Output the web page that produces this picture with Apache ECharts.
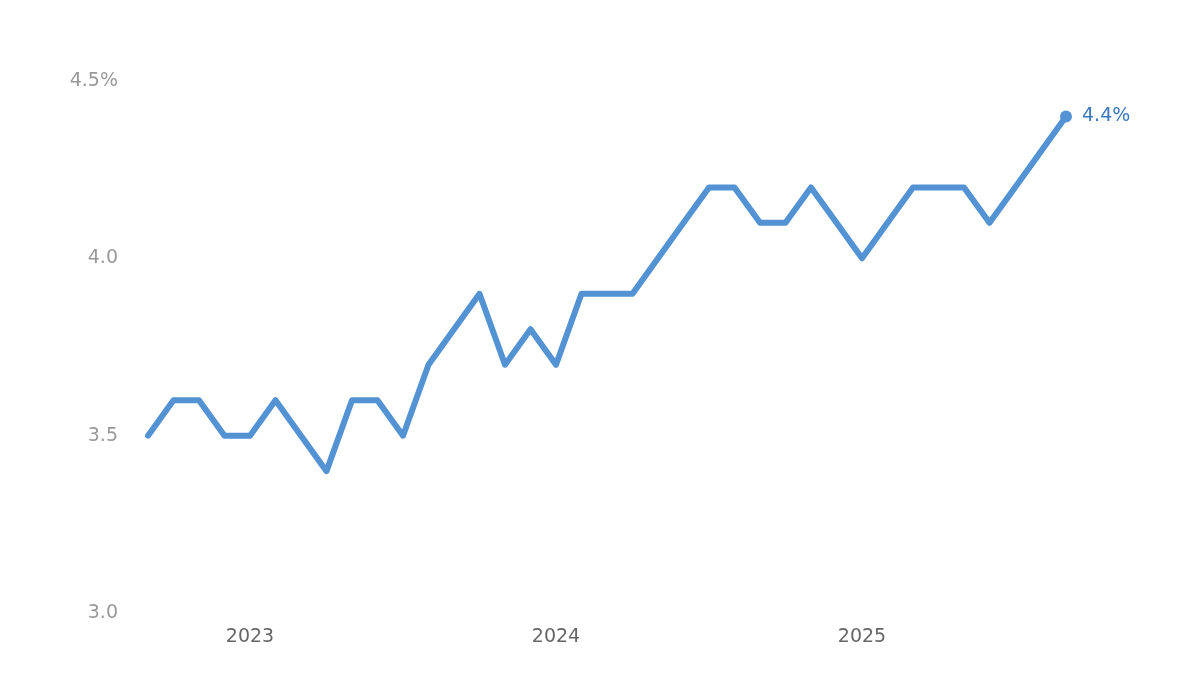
<!DOCTYPE html>
<html>
<head>
<meta charset="utf-8">
<script src="https://cdn.jsdelivr.net/npm/echarts@6/dist/echarts.min.js"></script>
<style>
  html, body { margin: 0; padding: 0; background: #fff; }
  #chart { width: 1200px; height: 678px; }
</style>
</head>
<body>
<div id="chart"></div>
<script>
// monthly, Sep 2022 .. Sep 2025
const months = [
  "2022-09", "2022-10", "2022-11", "2022-12",
  "2023-01", "2023-02", "2023-03", "2023-04", "2023-05", "2023-06",
  "2023-07", "2023-08", "2023-09", "2023-10", "2023-11", "2023-12",
  "2024-01", "2024-02", "2024-03", "2024-04", "2024-05", "2024-06",
  "2024-07", "2024-08", "2024-09", "2024-10", "2024-11", "2024-12",
  "2025-01", "2025-02", "2025-03", "2025-04", "2025-05", "2025-06",
  "2025-07", "2025-08", "2025-09"
];
const rate = [
  3.5, 3.6, 3.6, 3.5,
  3.5, 3.6, 3.5, 3.4, 3.6, 3.6, 3.5, 3.7, 3.8, 3.9, 3.7, 3.8,
  3.7, 3.9, 3.9, 3.9, 4.0, 4.1, 4.2, 4.2, 4.1, 4.1, 4.2, 4.1,
  4.0, 4.1, 4.2, 4.2, 4.2, 4.1, 4.2, 4.3, 4.4
];
const yTicks = [3.0, 3.5, 4.0, 4.5];

let chartDom = document.getElementById("chart");
let myChart = echarts.init(chartDom);
let font = "'DejaVu Sans', sans-serif";

let option = {
  animation: false,
  grid: { left: 148, right: 134, top: 81, bottom: 65 },
  xAxis: {
    type: "category",
    data: months,
    boundaryGap: false,
    axisLine: { show: false },
    axisTick: { show: false },
    splitLine: { show: false },
    axisLabel: {
      color: "#666",
      fontSize: 19,
      fontFamily: font,
      margin: 15,
      interval: function (i, v) { return v.slice(5) === "01"; },
      formatter: function (v) { return v.slice(0, 4); },
    },
  },
  yAxis: {
    type: "value",
    min: yTicks[0],
    max: yTicks[yTicks.length - 1],
    interval: 0.5,
    axisLine: { show: false },
    axisTick: { show: false },
    splitLine: { show: false },
    axisLabel: {
      color: "#999",
      fontSize: 19,
      fontFamily: font,
      margin: 30,
      formatter: function (v) {
        let s = v.toFixed(1);
        return v === yTicks[yTicks.length - 1] ? s + "%" : s;
      },
    },
  },
  series: [
    {
      type: "line",
      data: rate,
      symbol: "none",
      lineStyle: { color: "#5393d3", width: 6, join: "round", cap: "round" },
      markPoint: {
        symbol: "circle",
        symbolSize: 12,
        itemStyle: { color: "#5393d3" },
        data: [{ coord: [months.length - 1, rate[rate.length - 1]], value: rate[rate.length - 1] }],
        label: {
          show: true,
          position: "right",
          distance: 10,
          color: "#3a78c0",
          fontSize: 19,
          fontFamily: font,
          formatter: function (p) { return p.value.toFixed(1) + "%"; },
        },
      },
    },
  ],
};

option && myChart.setOption(option);
</script>
</body>
</html>
